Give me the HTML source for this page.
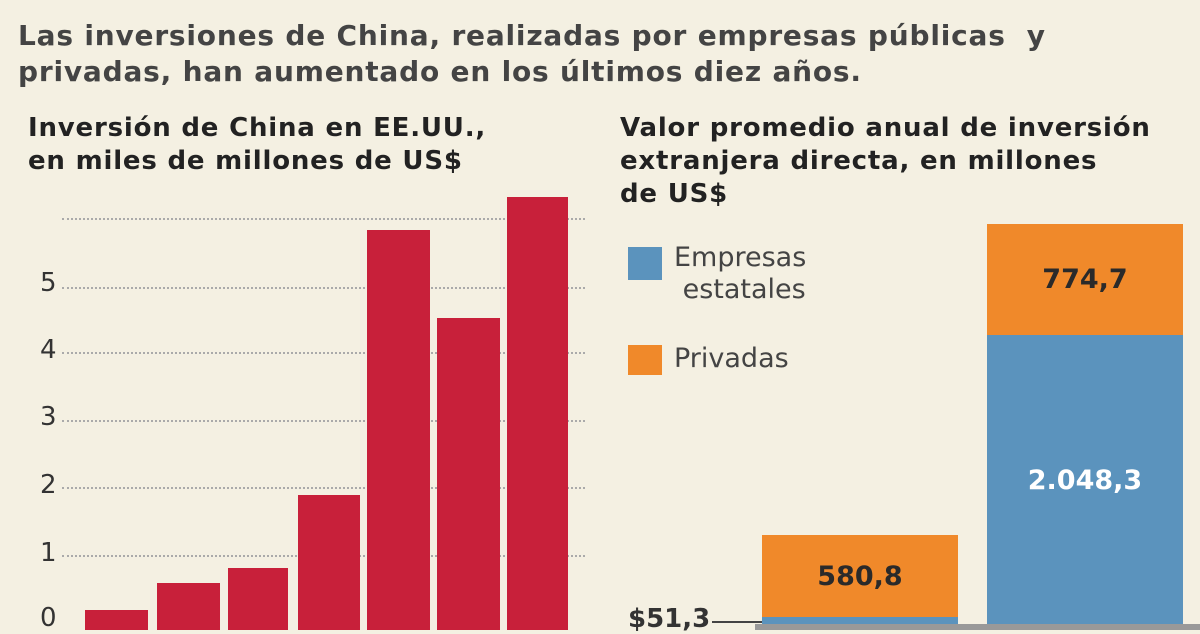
<!DOCTYPE html>
<html><head><meta charset="utf-8"><style>
body{margin:0;width:1200px;height:630px;background:#f4f0e2;position:relative;overflow:hidden;font-family:"DejaVu Sans","Liberation Sans",sans-serif;color:#2a2a2a}
.a{position:absolute}
.sub{left:18px;top:18px;font-size:28px;line-height:36px;color:#444;font-weight:bold;letter-spacing:0.8px}
.h{font-weight:bold;font-size:26px;line-height:33px;color:#222;letter-spacing:0.8px}
.g{position:absolute;left:62px;width:523px;border-top:2px dotted #aaa}
.yl{position:absolute;left:40px;font-size:26px;color:#333}
.r{position:absolute;background:#c8203a}
.lab{display:flex;align-items:center;justify-content:center;font-weight:bold;font-size:27px}
</style></head><body>
<div class="a" style="left:18px;top:-40px;font-size:36px;font-weight:bold">La apuesta china</div>
<div class="a sub">Las inversiones de China, realizadas por empresas públicas&nbsp; y<br>privadas, han aumentado en los últimos diez años.</div>
<div class="a h" style="left:28px;top:112px">Inversión de China en EE.UU.,<br>en miles de millones de US$</div>
<div class="a h" style="left:620px;top:112px">Valor promedio anual de inversión<br>extranjera directa, en millones<br>de US$</div>
<div class="g" style="top:218px"></div><div class="g" style="top:287px"></div><div class="g" style="top:352px"></div><div class="g" style="top:420px"></div><div class="g" style="top:487px"></div><div class="g" style="top:555px"></div>
<div class="yl" style="top:268px">5</div><div class="yl" style="top:335px">4</div><div class="yl" style="top:402px">3</div><div class="yl" style="top:470px">2</div><div class="yl" style="top:538px">1</div><div class="yl" style="top:603px">0</div>
<div class="r" style="left:85px;width:63px;top:610px;height:20px"></div>
<div class="r" style="left:157px;width:63px;top:583px;height:47px"></div>
<div class="r" style="left:228px;width:60px;top:568px;height:62px"></div>
<div class="r" style="left:298px;width:62px;top:495px;height:135px"></div>
<div class="r" style="left:367px;width:63px;top:230px;height:400px"></div>
<div class="r" style="left:437px;width:63px;top:318px;height:312px"></div>
<div class="r" style="left:507px;width:61px;top:197px;height:433px"></div>
<div class="a" style="left:628px;top:247px;width:34px;height:33px;background:#5b93bd"></div>
<div class="a" style="left:674px;top:242px;font-size:27px;line-height:32px;color:#444">Empresas<br>&nbsp;estatales</div>
<div class="a" style="left:628px;top:345px;width:34px;height:30px;background:#f0892a"></div>
<div class="a" style="left:674px;top:343px;font-size:27px;color:#444">Privadas</div>
<div class="a lab" style="left:762px;top:535px;width:196px;height:82px;background:#f0892a">580,8</div>
<div class="a" style="left:762px;top:617px;width:196px;height:8px;background:#5b93bd"></div>
<div class="a lab" style="left:987px;top:224px;width:196px;height:111px;background:#f0892a">774,7</div>
<div class="a lab" style="left:987px;top:335px;width:196px;height:290px;background:#5b93bd;color:#fff">2.048,3</div>
<div class="a" style="left:755px;top:624px;width:445px;height:6px;background:#999"></div>
<div class="a" style="left:712px;top:621px;width:50px;border-top:2px solid #444"></div>
<div class="a" style="left:628px;top:604px;font-size:26px;font-weight:bold;color:#333">$51,3</div>
</body></html>
